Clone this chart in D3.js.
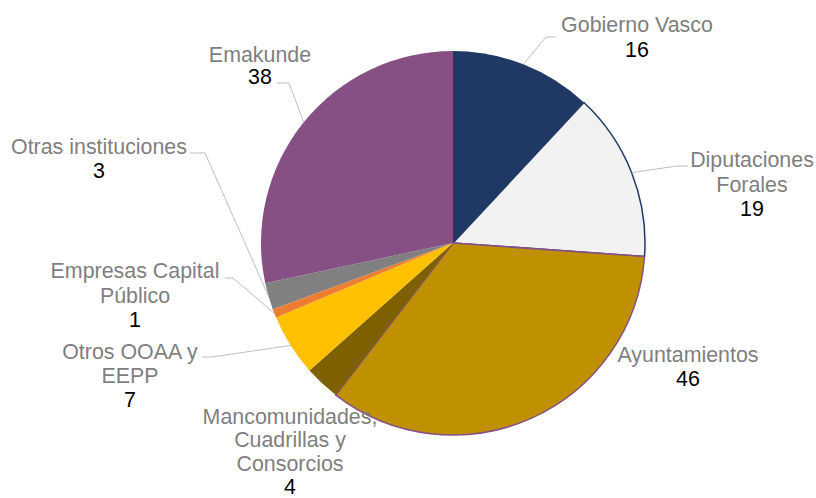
<!DOCTYPE html>
<html>
<head>
<meta charset="utf-8">
<script src="https://cdn.jsdelivr.net/npm/d3@7"></script>
<style>
  body { margin: 0; background: #fff; }
  text { font-family: "Liberation Sans", Arial, sans-serif; font-size: 21.4px; }
</style>
</head>
<body>
<div id="chart"></div>
<script>
// chart data
var categories = ["Gobierno Vasco", "Diputaciones Forales", "Ayuntamientos",
  "Mancomunidades, Cuadrillas y Consorcios", "Otros OOAA y EEPP",
  "Empresas Capital Público", "Otras instituciones", "Emakunde"];
var values = [16, 19, 46, 4, 7, 1, 3, 38];

// wrapped label lines, as in the original
var labelLines = [
  ["Gobierno Vasco"],
  ["Diputaciones", "Forales"],
  ["Ayuntamientos"],
  ["Mancomunidades,", "Cuadrillas y", "Consorcios"],
  ["Otros OOAA y", "EEPP"],
  ["Empresas Capital", "Público"],
  ["Otras instituciones"],
  ["Emakunde"]
];

var colors = ["#203864", "#F2F2F2", "#BF9000", "#7F6000", "#FFC000", "#ED7D31", "#808080", "#875084"];
var strokes = [null, "#203864", "#875084", null, null, null, null, null];

// svg container dimensions
var width = 816;
var height = 498;
var cx = 453;
var cy = 243;
var radius = 192;

// label placement (center x, first baseline, line step, leader elbow + end)
var labelLayout = [
  { x: 637, y: 32, step: 24.5, leader: [[546, 37], [556, 37]] },
  { x: 752, y: 167, step: 24.5, leader: [[677, 166], [688, 166]] },
  { x: 688, y: 362, step: 23.5, leader: null },
  { x: 290, y: 424, step: 23.3, leader: null },
  { x: 130, y: 359, step: 24, leader: [[212, 357], [202, 357]] },
  { x: 135, y: 278, step: 24.5, leader: [[233, 278], [225, 278]] },
  { x: 99, y: 154, step: 24, leader: [[205, 153], [190, 153]] },
  { x: 260, y: 62, step: 22, leader: [[289, 83], [277, 83]] }
];

var svg = d3.select("#chart")
  .append("svg")
  .attr("width", width)
  .attr("height", height);

var pieGroup = svg.append("g")
  .attr("transform", `translate(${cx}, ${cy})`);

var pie = d3.pie().sort(null).value(d => d);
var arcs = pie(values);

var arc = d3.arc().innerRadius(0).outerRadius(radius);

// slices
pieGroup.selectAll("path")
  .data(arcs)
  .enter()
  .append("path")
  .attr("d", arc)
  .attr("fill", (d, i) => colors[i])
  .attr("stroke", (d, i) => strokes[i] || "none")
  .attr("stroke-width", 1.5)
  .attr("stroke-linejoin", "round");

// leader lines start on the rim at the slice mid angle
arcs.forEach(function(d, i) {
  var lay = labelLayout[i];
  if (!lay.leader) return;
  var mid = (d.startAngle + d.endAngle) / 2;
  var start = [cx + radius * Math.sin(mid), cy - radius * Math.cos(mid)];
  var pts = [start].concat(lay.leader);
  svg.append("path")
    .attr("d", d3.line()(pts))
    .attr("fill", "none")
    .attr("stroke", "#BFBFBF")
    .attr("stroke-width", 1);
});

// labels
labelLayout.forEach(function(lay, i) {
  var t = svg.append("text")
    .attr("text-anchor", "middle");
  labelLines[i].forEach(function(line, j) {
    t.append("tspan")
      .attr("x", lay.x)
      .attr("y", lay.y + j * lay.step)
      .attr("fill", "#7F7F7F")
      .text(line);
  });
  t.append("tspan")
    .attr("x", lay.x)
    .attr("y", lay.y + labelLines[i].length * lay.step)
    .attr("fill", "#000")
    .text(values[i]);
});
</script>
</body>
</html>
